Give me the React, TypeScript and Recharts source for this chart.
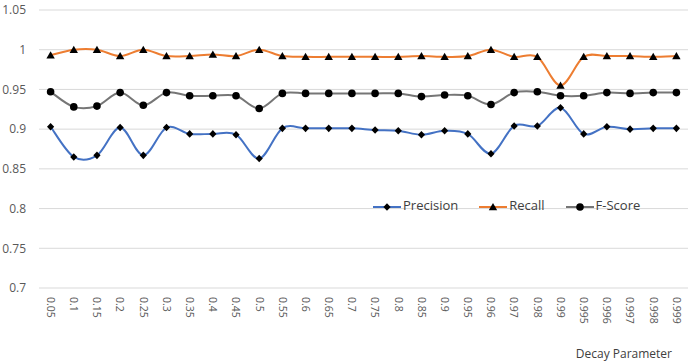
import React from "react";
import { LineChart, Line, XAxis, YAxis, CartesianGrid } from "recharts";

const decay = [
    "0.05", "0.1", "0.15", "0.2", "0.25", "0.3", "0.35", "0.4", "0.45", "0.5",
    "0.55", "0.6", "0.65", "0.7", "0.75", "0.8", "0.85", "0.9", "0.95", "0.96",
    "0.97", "0.98", "0.99", "0.995", "0.996", "0.997", "0.998", "0.999",
];

const precision = [
    0.903, 0.865, 0.867, 0.902, 0.867, 0.902, 0.894, 0.894, 0.893, 0.863,
    0.901, 0.901, 0.901, 0.901, 0.899, 0.898, 0.893, 0.898, 0.894, 0.869,
    0.904, 0.904, 0.927, 0.894, 0.903, 0.9, 0.901, 0.901,
];

const recall = [
    0.993, 1.0, 1.0, 0.992, 1.0, 0.992, 0.992, 0.994, 0.992, 1.0,
    0.992, 0.991, 0.991, 0.991, 0.991, 0.991, 0.992, 0.991, 0.992, 1.0,
    0.991, 0.991, 0.955, 0.991, 0.992, 0.992, 0.991, 0.992,
];

const fScore = [
    0.947, 0.928, 0.929, 0.946, 0.93, 0.946, 0.942, 0.942, 0.942, 0.926,
    0.945, 0.945, 0.945, 0.945, 0.945, 0.945, 0.941, 0.943, 0.942, 0.931,
    0.946, 0.947, 0.942, 0.942, 0.946, 0.945, 0.946, 0.946,
];

const yTicks = [0.7, 0.75, 0.8, 0.85, 0.9, 0.95, 1, 1.05];

const data = decay.map((d, i) => ({
    decay: d,
    precision: precision[i],
    recall: recall[i],
    fScore: fScore[i],
}));

const FONT = "'Open Sans', 'DejaVu Sans', sans-serif";

// excel-like smoothing (catmull-rom style bezier)
const smoothCurve = (context: any) => {
    let pts: number[][] = [];
    return {
        areaStart() {},
        areaEnd() {},
        lineStart() {
            pts = [];
        },
        point(x: number, y: number) {
            pts.push([+x, +y]);
        },
        lineEnd() {
            if (!pts.length) return;
            context.moveTo(pts[0][0], pts[0][1]);
            for (let i = 0; i < pts.length - 1; i++) {
                const p0 = pts[i - 1] || pts[i];
                const p1 = pts[i];
                const p2 = pts[i + 1];
                const p3 = pts[i + 2] || p2;
                context.bezierCurveTo(
                    p1[0] + (p2[0] - p0[0]) / 6,
                    p1[1] + (p2[1] - p0[1]) / 6,
                    p2[0] - (p3[0] - p1[0]) / 6,
                    p2[1] - (p3[1] - p1[1]) / 6,
                    p2[0],
                    p2[1]
                );
            }
        },
    };
};

const Diamond = ({ cx, cy }: any) => (
    <path d={`M${cx},${cy - 3.8}L${cx + 3.6},${cy}L${cx},${cy + 3.8}L${cx - 3.6},${cy}Z`} fill="#000" />
);

const Triangle = ({ cx, cy }: any) => (
    <path d={`M${cx},${cy - 4}L${cx + 4.2},${cy + 3.2}L${cx - 4.2},${cy + 3.2}Z`} fill="#000" />
);

const Dot = ({ cx, cy }: any) => <circle cx={cx} cy={cy} r={3.8} fill="#000" />;

const renderDiamond = (p: any) => <Diamond key={`d-${p.index}`} {...p} />;
const renderTriangle = (p: any) => <Triangle key={`t-${p.index}`} {...p} />;
const renderDot = (p: any) => <Dot key={`c-${p.index}`} {...p} />;

const XTick = ({ x, y, payload }: any) => (
    <g transform={`translate(${x},${y})`}>
        <text transform="rotate(90)" dy="0.35em" textAnchor="start" fontSize={10.5} fill="#595959" fontFamily={FONT}>
            {payload.value}
        </text>
    </g>
);

const legendItems = [
    { name: "Precision", color: "#4472C4", marker: Diamond },
    { name: "Recall", color: "#ED7D31", marker: Triangle },
    { name: "F-Score", color: "#767676", marker: Dot },
];

export default function App() {
    return (
        <div style={{ position: "absolute", left: 0, top: 0, width: 695, height: 364, background: "#fff" }}>
            <LineChart width={695} height={364} data={data} margin={{ top: 10, right: 7, left: 0, bottom: 0 }}>
                <CartesianGrid vertical={false} stroke="#d9d9d9" />
                <XAxis
                    dataKey="decay"
                    height={76}
                    axisLine={false}
                    tickLine={false}
                    tickMargin={3}
                    interval={0}
                    padding={{ left: 11.6, right: 11.6 }}
                    tick={<XTick />}
                    label={({ viewBox }: any) => (
                        <text
                            x={viewBox.x + viewBox.width - 16}
                            y={viewBox.y + viewBox.height - 6}
                            textAnchor="end"
                            fontSize={12}
                            fill="#404040"
                            fontFamily={FONT}
                        >
                            Decay Parameter
                        </text>
                    )}
                />
                <YAxis
                    width={39}
                    domain={[0.7, 1.05]}
                    ticks={yTicks}
                    axisLine={false}
                    tickLine={false}
                    tickMargin={7}
                    tickFormatter={(v: number) => String(Number(v.toFixed(2)))}
                    tick={{ fontSize: 12, fill: "#595959", fontFamily: FONT }}
                />
                <Line dataKey="precision" type={smoothCurve as any} stroke="#4472C4" strokeWidth={2} dot={renderDiamond} isAnimationActive={false} />
                <Line dataKey="recall" type={smoothCurve as any} stroke="#ED7D31" strokeWidth={2} dot={renderTriangle} isAnimationActive={false} />
                <Line dataKey="fScore" type={smoothCurve as any} stroke="#767676" strokeWidth={2} dot={renderDot} isAnimationActive={false} />
            </LineChart>
            <div style={{ position: "absolute", left: 373, top: 197, display: "flex", fontFamily: FONT, fontSize: 13, lineHeight: "16px", color: "#404040" }}>
                {legendItems.map((it) => {
                    const M = it.marker;
                    return (
                        <div key={it.name} style={{ display: "flex", marginRight: 21 }}>
                            <svg width={28} height={16} style={{ display: "block", marginRight: 2 }}>
                                <line x1={0} y1={10} x2={28} y2={10} stroke={it.color} strokeWidth={2} />
                                <M cx={14} cy={10} />
                            </svg>
                            <span>{it.name}</span>
                        </div>
                    );
                })}
            </div>
        </div>
    );
}
